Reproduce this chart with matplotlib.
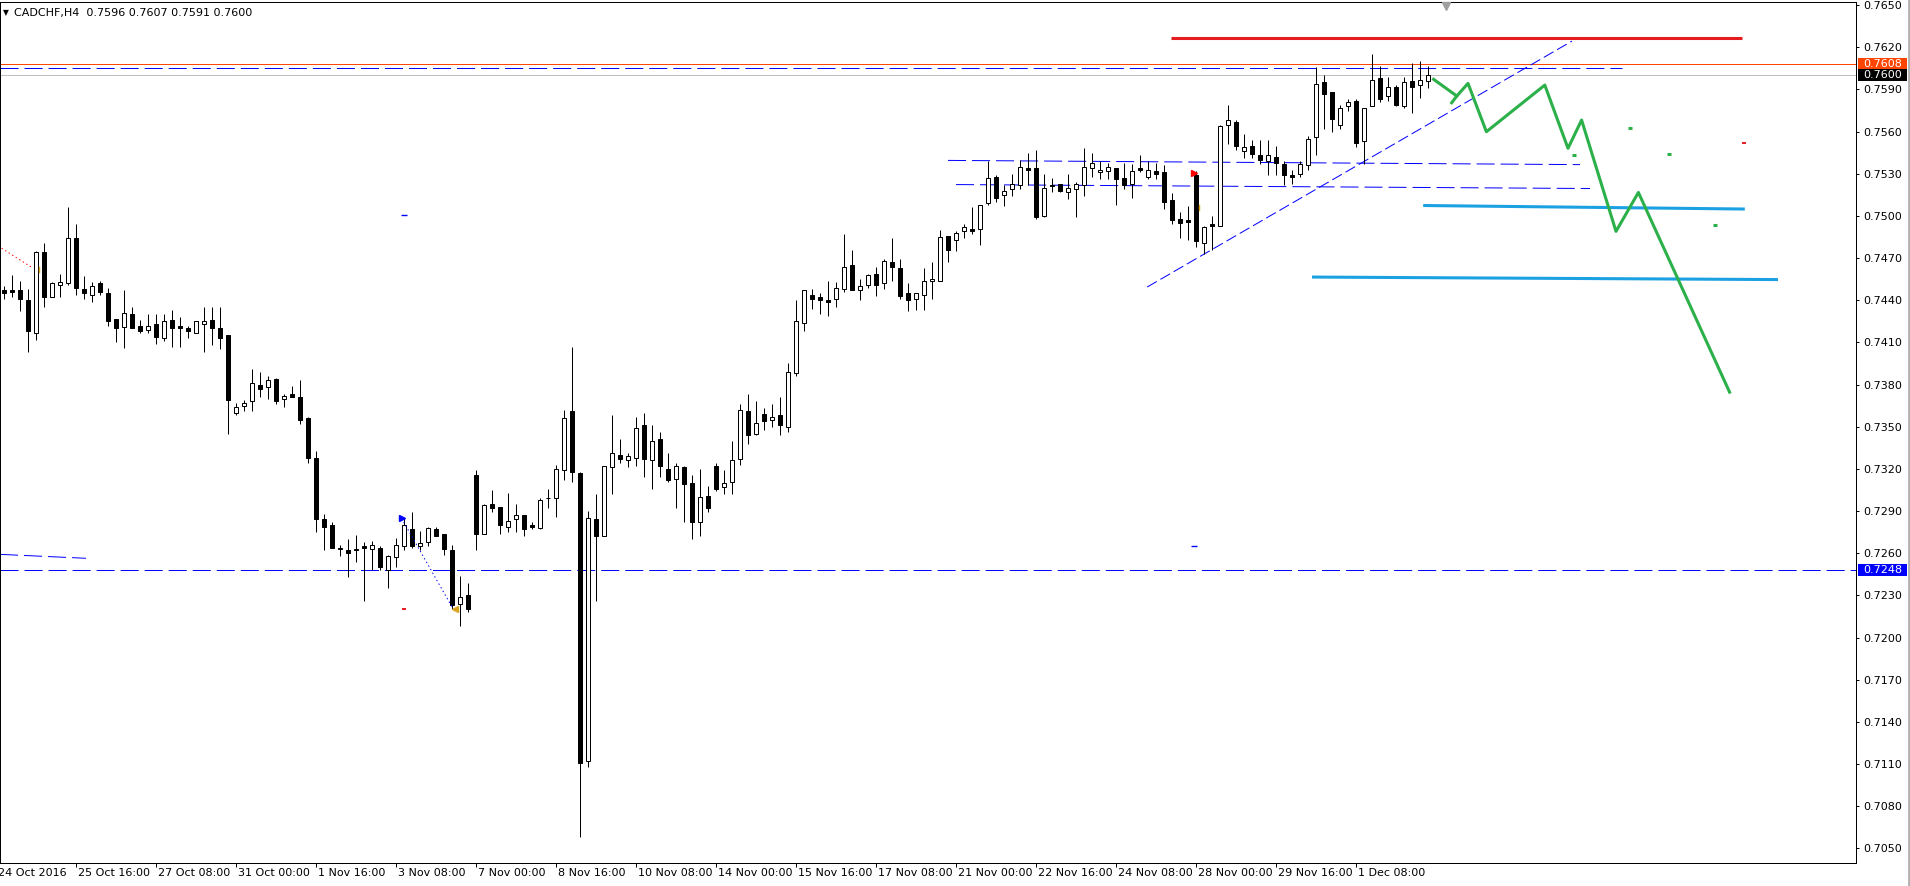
import matplotlib
matplotlib.use("Agg")
import matplotlib.pyplot as plt
import numpy as np
from matplotlib.patches import Rectangle

plt.rcParams['font.family'] = ['DejaVu Sans']
plt.rcParams['lines.scale_dashes'] = False

# CADCHF H4 candles (index 0 = 24 Oct 04:00)
opens = [0.7447, 0.7447, 0.7447, 0.7440, 0.7417, 0.7474, 0.7442, 0.7451, 0.7452, 0.7484,
         0.7448, 0.7444, 0.7452, 0.7445, 0.7427, 0.7421, 0.7430, 0.7422, 0.7419, 0.7423,
         0.7413, 0.7426, 0.7422, 0.7420, 0.7417, 0.7423, 0.7426, 0.7420, 0.7415, 0.7360,
         0.7365, 0.7368, 0.7380, 0.7378, 0.7384, 0.7370, 0.7373, 0.7371, 0.7356, 0.7328,
         0.7284, 0.7280, 0.7264, 0.7262, 0.7263, 0.7265, 0.7263, 0.7264, 0.7248, 0.7257,
         0.7265, 0.7277, 0.7265, 0.7268, 0.7277, 0.7274, 0.7262, 0.7224, 0.7230, 0.7316,
         0.7274, 0.7295, 0.7293, 0.7279, 0.7284, 0.7287, 0.7280, 0.7278, 0.7299, 0.7299,
         0.7319, 0.7361, 0.7317, 0.7112, 0.7284, 0.7272, 0.7321, 0.7330, 0.7326, 0.7328,
         0.7351, 0.7326, 0.7341, 0.7320, 0.7313, 0.7321, 0.7310, 0.7282, 0.7301, 0.7322,
         0.7307, 0.7311, 0.7327, 0.7361, 0.7345, 0.7359, 0.7355, 0.7358, 0.7350, 0.7388,
         0.7424, 0.7444, 0.7442, 0.7440, 0.7441, 0.7448, 0.7465, 0.7447, 0.7451, 0.7459,
         0.7452, 0.7467, 0.7463, 0.7445, 0.7441, 0.7444, 0.7454, 0.7454, 0.7486, 0.7483,
         0.7489, 0.7491, 0.7491, 0.7509, 0.7528, 0.7515, 0.7519, 0.7522, 0.7534, 0.7534,
         0.7500, 0.7522, 0.7523, 0.7517, 0.7519, 0.7522, 0.7534, 0.7531, 0.7532, 0.7534,
         0.7527, 0.7523, 0.7534, 0.7528, 0.7532, 0.7531, 0.7511, 0.7498, 0.7497, 0.7529,
         0.7481, 0.7494, 0.7493, 0.7565, 0.7567, 0.7546, 0.7550, 0.7543, 0.7539, 0.7542,
         0.7537, 0.7529, 0.7530, 0.7536, 0.7556, 0.7595, 0.7588, 0.7565, 0.7578, 0.7582,
         0.7553, 0.7578, 0.7598, 0.7585, 0.7592, 0.7578, 0.7596, 0.7593, 0.7596]
highs = [0.7450, 0.7458, 0.7454, 0.7448, 0.7475, 0.7481, 0.7453, 0.7459, 0.7506, 0.7494,
         0.7457, 0.7453, 0.7454, 0.7449, 0.7427, 0.7447, 0.7435, 0.7426, 0.7430, 0.7430,
         0.7430, 0.7433, 0.7428, 0.7422, 0.7425, 0.7435, 0.7435, 0.7435, 0.7415, 0.7367,
         0.7369, 0.7391, 0.7389, 0.7386, 0.7385, 0.7373, 0.7379, 0.7383, 0.7357, 0.7333,
         0.7288, 0.7282, 0.7266, 0.7270, 0.7273, 0.7268, 0.7269, 0.7265, 0.7259, 0.7271,
         0.7285, 0.7289, 0.7276, 0.7279, 0.7279, 0.7274, 0.7266, 0.7244, 0.7239, 0.7319,
         0.7295, 0.7305, 0.7293, 0.7303, 0.7295, 0.7287, 0.7282, 0.7299, 0.7306, 0.7323,
         0.7362, 0.7407, 0.7318, 0.7290, 0.7302, 0.7322, 0.7358, 0.7341, 0.7331, 0.7357,
         0.7360, 0.7351, 0.7346, 0.7331, 0.7324, 0.7322, 0.7316, 0.7320, 0.7308, 0.7324,
         0.7319, 0.7340, 0.7366, 0.7373, 0.7368, 0.7363, 0.7366, 0.7371, 0.7395, 0.7440,
         0.7447, 0.7448, 0.7445, 0.7454, 0.7453, 0.7487, 0.7476, 0.7455, 0.7459, 0.7464,
         0.7469, 0.7484, 0.7469, 0.7452, 0.7445, 0.7463, 0.7467, 0.7490, 0.7486, 0.7489,
         0.7494, 0.7506, 0.7508, 0.7539, 0.7529, 0.7522, 0.7530, 0.7540, 0.7545, 0.7547,
         0.7530, 0.7527, 0.7523, 0.7530, 0.7524, 0.7548, 0.7545, 0.7539, 0.7538, 0.7534,
         0.7538, 0.7537, 0.7543, 0.7539, 0.7538, 0.7536, 0.7516, 0.7503, 0.7507, 0.7532,
         0.7493, 0.7500, 0.7565, 0.7579, 0.7568, 0.7558, 0.7554, 0.7554, 0.7554, 0.7550,
         0.7539, 0.7533, 0.7539, 0.7557, 0.7606, 0.7600, 0.7588, 0.7579, 0.7583, 0.7583,
         0.7577, 0.7615, 0.7607, 0.7599, 0.7593, 0.7599, 0.7609, 0.7610, 0.7607]
lows = [0.7441, 0.7442, 0.7432, 0.7403, 0.7412, 0.7435, 0.7442, 0.7442, 0.7451, 0.7444,
        0.7441, 0.7439, 0.7444, 0.7422, 0.7410, 0.7406, 0.7420, 0.7417, 0.7417, 0.7409,
        0.7411, 0.7407, 0.7407, 0.7413, 0.7417, 0.7403, 0.7408, 0.7405, 0.7345, 0.7358,
        0.7361, 0.7361, 0.7371, 0.7370, 0.7366, 0.7364, 0.7371, 0.7352, 0.7324, 0.7275,
        0.7262, 0.7264, 0.7258, 0.7243, 0.7254, 0.7226, 0.7248, 0.7248, 0.7235, 0.7250,
        0.7262, 0.7264, 0.7262, 0.7265, 0.7272, 0.7259, 0.7220, 0.7208, 0.7218, 0.7262,
        0.7274, 0.7289, 0.7274, 0.7275, 0.7275, 0.7272, 0.7277, 0.7277, 0.7292, 0.7286,
        0.7312, 0.7311, 0.7058, 0.7108, 0.7226, 0.7272, 0.7302, 0.7324, 0.7321, 0.7322,
        0.7314, 0.7306, 0.7314, 0.7311, 0.7292, 0.7282, 0.7270, 0.7272, 0.7289, 0.7304,
        0.7302, 0.7302, 0.7323, 0.7338, 0.7344, 0.7348, 0.7350, 0.7344, 0.7346, 0.7386,
        0.7418, 0.7434, 0.7430, 0.7429, 0.7435, 0.7446, 0.7447, 0.7440, 0.7449, 0.7443,
        0.7448, 0.7454, 0.7441, 0.7432, 0.7433, 0.7433, 0.7441, 0.7454, 0.7467, 0.7475,
        0.7484, 0.7487, 0.7479, 0.7508, 0.7510, 0.7507, 0.7514, 0.7519, 0.7522, 0.7498,
        0.7499, 0.7517, 0.7517, 0.7512, 0.7499, 0.7514, 0.7528, 0.7526, 0.7526, 0.7508,
        0.7519, 0.7513, 0.7531, 0.7526, 0.7526, 0.7505, 0.7494, 0.7484, 0.7483, 0.7478,
        0.7473, 0.7476, 0.7493, 0.7551, 0.7547, 0.7541, 0.7541, 0.7537, 0.7529, 0.7529,
        0.7522, 0.7523, 0.7528, 0.7533, 0.7543, 0.7562, 0.7560, 0.7562, 0.7575, 0.7549,
        0.7537, 0.7578, 0.7581, 0.7582, 0.7578, 0.7577, 0.7573, 0.7584, 0.7591]
closes = [0.7445, 0.7446, 0.7441, 0.7418, 0.7474, 0.7442, 0.7452, 0.7453, 0.7484, 0.7449,
          0.7445, 0.7450, 0.7446, 0.7425, 0.7420, 0.7431, 0.7420, 0.7418, 0.7422, 0.7414,
          0.7425, 0.7420, 0.7420, 0.7418, 0.7425, 0.7425, 0.7420, 0.7413, 0.7369, 0.7364,
          0.7367, 0.7381, 0.7377, 0.7383, 0.7368, 0.7372, 0.7371, 0.7355, 0.7328, 0.7284,
          0.7279, 0.7264, 0.7263, 0.7260, 0.7262, 0.7264, 0.7266, 0.7250, 0.7258, 0.7266,
          0.7280, 0.7265, 0.7267, 0.7278, 0.7272, 0.7263, 0.7223, 0.7229, 0.7220, 0.7274,
          0.7294, 0.7292, 0.7280, 0.7283, 0.7287, 0.7277, 0.7279, 0.7298, 0.7299, 0.7320,
          0.7356, 0.7318, 0.7111, 0.7285, 0.7272, 0.7322, 0.7331, 0.7327, 0.7329, 0.7349,
          0.7327, 0.7340, 0.7322, 0.7312, 0.7322, 0.7309, 0.7282, 0.7300, 0.7292, 0.7306,
          0.7310, 0.7326, 0.7362, 0.7344, 0.7353, 0.7354, 0.7357, 0.7351, 0.7389, 0.7425,
          0.7447, 0.7441, 0.7440, 0.7439, 0.7449, 0.7464, 0.7447, 0.7450, 0.7458, 0.7451,
          0.7468, 0.7464, 0.7443, 0.7440, 0.7445, 0.7454, 0.7455, 0.7485, 0.7476, 0.7488,
          0.7492, 0.7489, 0.7508, 0.7527, 0.7513, 0.7518, 0.7523, 0.7535, 0.7533, 0.7499,
          0.7520, 0.7521, 0.7518, 0.7520, 0.7523, 0.7535, 0.7538, 0.7533, 0.7535, 0.7526,
          0.7522, 0.7532, 0.7533, 0.7533, 0.7530, 0.7510, 0.7497, 0.7495, 0.7496, 0.7482,
          0.7492, 0.7493, 0.7564, 0.7568, 0.7550, 0.7549, 0.7544, 0.7540, 0.7543, 0.7538,
          0.7529, 0.7528, 0.7537, 0.7555, 0.7594, 0.7587, 0.7569, 0.7577, 0.7581, 0.7552,
          0.7577, 0.7597, 0.7583, 0.7592, 0.7579, 0.7595, 0.7592, 0.7597, 0.7600]

time_ticks = [-1, 9, 19, 29, 39, 49, 59, 69, 79, 89, 99, 109, 119, 129, 139, 149, 159, 169]
time_labels = ["24 Oct 2016", "25 Oct 16:00", "27 Oct 08:00", "31 Oct 00:00", "1 Nov 16:00",
               "3 Nov 08:00", "7 Nov 00:00", "8 Nov 16:00", "10 Nov 08:00", "14 Nov 00:00",
               "15 Nov 16:00", "17 Nov 08:00", "21 Nov 00:00", "22 Nov 16:00", "24 Nov 08:00",
               "28 Nov 00:00", "29 Nov 16:00", "1 Dec 08:00"]
price_ticks = [0.7050, 0.7080, 0.7110, 0.7140, 0.7170, 0.7200, 0.7230, 0.7260, 0.7290, 0.7320,
               0.7350, 0.7380, 0.7410, 0.7440, 0.7470, 0.7500, 0.7530, 0.7560, 0.7590, 0.7620,
               0.7650]

# drawn objects, (bar index, price)
ask_level = 0.7608
bid_level = 0.7600
blue_level = 0.7248
upper_dash = [(-0.5, 0.7605), (202.25, 0.7605)]
red_resist = [(145.9, 0.76266), (217.25, 0.76266)]
trend_up = [(142.9, 0.74494), (196.0, 0.76244)]
range_top = [(118.0, 0.75395), (197.0, 0.75365)]
range_low = [(119.0, 0.75223), (198.25, 0.75195)]
support_1 = [(177.4, 0.75074), (217.6, 0.75049)]
support_2 = [(163.5, 0.74565), (221.75, 0.74547)]
left_dash = [(-0.5, 0.72592), (10.25, 0.72564)]
path_x = [178.7, 181.6, 183.0, 185.3, 192.6, 195.5, 197.2, 201.5, 204.3, 215.7]
path_y = [0.75972, 0.75853, 0.75943, 0.75599, 0.75931, 0.75481, 0.75682, 0.74890, 0.75167, 0.73746]
green_marks = [(196.2, 0.75433), (203.25, 0.75625), (208.1, 0.75444), (213.9, 0.74935)]
red_marks = [(217.5, 0.75522), (50, 0.72201)]
blue_marks = [(50, 0.75006), (148.75, 0.72651)]
blue_dotted = [(49.7, 0.72848), (56.1, 0.72208)]
red_dotted = [(-0.3, 0.7477), (3.66, 0.74627)]

W, H = 1910, 886
fig = plt.figure(figsize=(W / 100, H / 100), dpi=100)
ax = fig.add_axes([0, (H - 863) / H, 1856 / W, 861 / H])
ax.set_xlim(-0.5, 231.5)
ax.set_ylim(0.70396, 0.76522)

o = np.array(opens)
h = np.array(highs)
l = np.array(lows)
c = np.array(closes)
x = np.arange(len(o))
up = c >= o
px = 0.72

ax.vlines(x, l, h, color='black', lw=px, zorder=3)
bottom = np.minimum(o, c)
height = np.abs(c - o)
ax.bar(x[up], height[up], bottom=bottom[up], width=0.5, color='white',
       edgecolor='black', linewidth=px, zorder=4)
ax.bar(x[~up], height[~up], bottom=bottom[~up], width=0.5, color='black',
       edgecolor='black', linewidth=px, zorder=4)

dash = (0, (13, 4.3))
ax.axhline(ask_level, color='#FF4500', lw=px, zorder=2)
ax.axhline(bid_level, color='#C0C0C0', lw=px, zorder=2)
ax.axhline(blue_level, color='#0000FF', lw=px, ls=dash, zorder=2)
for seg, st in [(upper_dash, dash), (range_top, dash), (range_low, dash),
                (left_dash, dash), (trend_up, (0, (8, 3)))]:
    ax.plot([seg[0][0], seg[1][0]], [seg[0][1], seg[1][1]], color='#0000FF', lw=px, ls=st, zorder=2)
ax.plot([p[0] for p in red_resist], [p[1] for p in red_resist], color='#E41B1F', lw=2.2, zorder=2,
        solid_capstyle='butt')
for seg in (support_1, support_2):
    ax.plot([p[0] for p in seg], [p[1] for p in seg], color='#1BA1E2', lw=2.2, zorder=2,
            solid_capstyle='butt')
ax.plot(path_x, path_y, color='#2BB04A', lw=2.2, zorder=5)
ax.plot([path_x[1], 180.96], [path_y[1], 0.75805], color='#2BB04A', lw=2.2, zorder=5)
for mx, my in green_marks:
    ax.plot([mx - 0.25, mx + 0.25], [my, my], color='#2BB04A', lw=2.2, zorder=5, solid_capstyle='butt')
for mx, my in red_marks:
    ax.plot([mx - 0.3, mx + 0.3], [my, my], color='#E41B1F', lw=1.4, zorder=5, solid_capstyle='butt')
for mx, my in blue_marks:
    ax.plot([mx - 0.35, mx + 0.35], [my, my], color='#0000FF', lw=1.0, zorder=5, solid_capstyle='butt')
ax.plot([p[0] for p in blue_dotted], [p[1] for p in blue_dotted], color='#0000FF', lw=px,
        ls=(0, (1, 2)), zorder=5)
ax.plot([blue_dotted[0][0]], [blue_dotted[0][1]], marker='>', color='#0000FF', ms=4, zorder=6)
ax.plot([56.4], [0.72203], marker='<', color='#DAA520', ms=4, zorder=6)
ax.plot([p[0] for p in red_dotted], [p[1] for p in red_dotted], color='#FF0000', lw=px,
        ls=(0, (1, 2)), zorder=5)
ax.plot([4.4, 4.4], [0.74600, 0.74640], color='#DAA520', lw=1.0, zorder=6)
ax.plot([148.7], [0.75307], marker='>', color='#FF0000', ms=4, zorder=6)
ax.plot([149.4, 149.4], [0.75040, 0.75080], color='#DAA520', lw=1.0, zorder=6)
ax.plot([180.25], [0.9955], marker='v', color='#A0A0A0', ms=6,
        transform=ax.get_xaxis_transform(), clip_on=False, zorder=6)

for s in ax.spines.values():
    s.set_color('black')
    s.set_linewidth(px)

ax.yaxis.tick_right()
ax.set_yticks(price_ticks)
ax.set_yticklabels(["%.4f" % p for p in price_ticks])
ax.tick_params(axis='y', direction='out', length=2.2, width=px, pad=3, labelsize=8, colors='black')
ax.set_xticks(time_ticks[1:])
ax.set_xticklabels([])
ax.tick_params(axis='x', direction='out', length=3, width=px)

xt = ax.get_xaxis_transform()
for t, lab in zip(time_ticks, time_labels):
    ax.text(t + 0.25, -0.0116, lab, transform=xt, ha='left', va='center', fontsize=8, clip_on=False)

yt = ax.get_yaxis_transform()
box_h = 12 / 14055
for lvl, txt, bg in [(ask_level, "0.7608", '#FF4500'), (bid_level, "0.7600", '#000000'),
                     (blue_level, "0.7248", '#0000FF')]:
    ax.add_patch(Rectangle((1 + 2 / 1856, lvl - box_h / 2), 49 / 1856, box_h, transform=yt,
                           facecolor=bg, edgecolor='none', clip_on=False, zorder=7))
    ax.text(1 + 7 / 1856, lvl, txt, transform=yt, ha='left', va='center', fontsize=8,
            color='white', clip_on=False, zorder=8)

fig.text(3 / W, 1 - 13 / H, "\u25bc", fontsize=5.5, va='center', ha='left')
fig.text(14 / W, 1 - 13 / H, "CADCHF,H4  0.7596 0.7607 0.7591 0.7600", fontsize=8,
         va='center', ha='left')
fig.add_artist(plt.Line2D([1908.5 / W, 1908.5 / W], [0, 1], color='#B0B0B0', lw=2))

fig.savefig("out.png", dpi=100)
